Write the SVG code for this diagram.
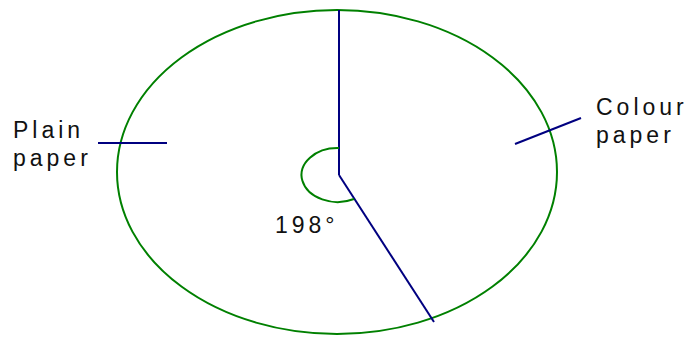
<svg xmlns="http://www.w3.org/2000/svg" width="691" height="339" viewBox="0 0 691 339">
<style>
.g{fill:none;stroke:#008000;stroke-width:2}
.b{fill:none;stroke:#000080;stroke-width:2}
text{font-family:"Liberation Sans",Arial,sans-serif;font-size:23px;fill:#111;letter-spacing:4px}
</style>
<rect width="691" height="339" fill="#fff"/>
<g id="circle">
<ellipse class="g" cx="337" cy="172" rx="220" ry="162"/>
</g>
<g id="connectors">
<line class="b" x1="339" y1="10" x2="339" y2="175"/>
<line class="b" x1="339" y1="175" x2="434" y2="322"/>
<path class="g" d="M339 148 A36 27 0 1 0 354 199"/>
<line class="b" x1="98" y1="143" x2="167" y2="143"/>
<line class="b" x1="515" y1="144" x2="581" y2="118"/>
</g>
<g id="label-plain">
<text x="13" y="138">Plain</text>
<text x="13" y="166">paper</text>
</g>
<g id="label-colour">
<text x="596" y="115">Colour</text>
<text x="596" y="143">paper</text>
</g>
<g id="label-angle">
<text x="275" y="233">198°</text>
</g>
</svg>
